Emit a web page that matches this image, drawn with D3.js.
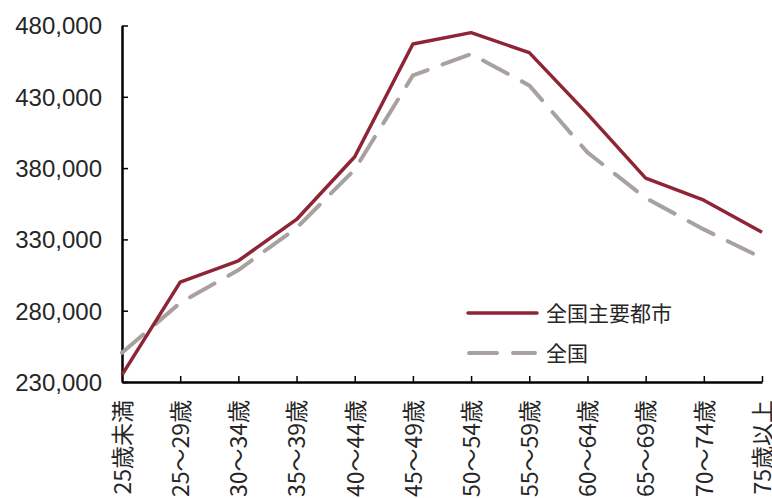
<!DOCTYPE html>
<html>
<head>
<meta charset="utf-8">
<script src="https://cdn.jsdelivr.net/npm/d3@7"></script>
<style>
  html, body { margin: 0; padding: 0; background: #fff; }
  svg { display: block; }
</style>
</head>
<body>
<svg id="chart" width="772" height="498"></svg>
<script>
// Age brackets (x axis)
const ageGroups = ["25歳未満", "25～29歳", "30～34歳", "35～39歳", "40～44歳", "45～49歳",
                   "50～54歳", "55～59歳", "60～64歳", "65～69歳", "70～74歳", "75歳以上"];

// Series values
const majorCities = [235000, 300000, 315000, 344000, 388000, 467000, 475000, 461000, 418000, 373000, 357500, 335000];
const nationwide  = [250500, 285500, 308500, 338000, 379000, 445000, 460000, 438000, 391000, 359000, 337000, 317000];

// Y axis ticks
const yTicks = [230000, 280000, 330000, 380000, 430000, 480000];

const seriesNames = ["全国主要都市", "全国"];

const svg = d3.select("#chart");
const plotLeft = 122, plotRight = 762, plotTop = 25.5, plotBottom = 382;

const x = d3.scalePoint().domain(ageGroups).range([plotLeft, plotRight]).padding(0);
const y = d3.scaleLinear().domain([230000, 480000]).range([plotBottom, plotTop]);

const fontLatin = "'Liberation Sans', Arial, 'Noto Sans CJK JP', sans-serif";
const fontCJK = "'Noto Sans CJK JP', 'Liberation Sans', sans-serif";
const textColor = "#262626";

// Y axis
const yAxis = svg.append("g")
  .attr("transform", `translate(${plotLeft},0)`)
  .call(d3.axisLeft(y).tickValues(yTicks).tickSizeInner(-6).tickSizeOuter(0).tickPadding(20)
        .tickFormat(d3.format(",")));
yAxis.select(".domain").attr("stroke", "#000").attr("stroke-width", 2.5);
yAxis.selectAll(".tick line").attr("stroke", "#000").attr("stroke-width", 1.5);
yAxis.selectAll(".tick text")
  .attr("font-family", fontLatin).attr("font-size", 24).attr("fill", textColor)
  .attr("dy", "0.35em");

// X axis with rotated age-bracket labels
const xAxis = svg.append("g")
  .attr("transform", `translate(0,${plotBottom})`)
  .call(d3.axisBottom(x).tickSizeInner(-6).tickSizeOuter(0).tickPadding(0));
xAxis.select(".domain").attr("stroke", "#000").attr("stroke-width", 2.5);
xAxis.selectAll(".tick line").attr("stroke", "#000").attr("stroke-width", 1.5);
xAxis.selectAll(".tick").filter(d => d === ageGroups[0]).select("line").remove();
xAxis.selectAll(".tick text")
  .attr("font-family", fontCJK).attr("font-size", 23).attr("fill", textColor)
  .attr("text-anchor", "end")
  .attr("transform", "rotate(-90)")
  .attr("x", -18).attr("y", 0).attr("dy", "0.36em");

// Lines
const line = d3.line().x((d, i) => x(ageGroups[i])).y(d => y(d));

svg.append("path").datum(nationwide)
  .attr("d", line).attr("fill", "none")
  .attr("stroke", "#A8A1A0").attr("stroke-width", 4)
  .attr("stroke-dasharray", "28,16").attr("stroke-linecap", "round")
  .attr("stroke-linejoin", "round");

svg.append("path").datum(majorCities)
  .attr("d", line).attr("fill", "none")
  .attr("stroke", "#8E2435").attr("stroke-width", 3.5)
  .attr("stroke-linejoin", "round");

// Legend
const legend = svg.append("g");
const legendItems = [
  { name: seriesNames[0], color: "#8E2435", dash: null, width: 3.5, y: 313 },
  { name: seriesNames[1], color: "#A8A1A0", dash: "28,16", width: 4, y: 353 }
];
legendItems.forEach(it => {
  legend.append("line")
    .attr("x1", it.dash ? 469 : 468).attr("x2", it.dash ? 535 : 537)
    .attr("y1", it.y).attr("y2", it.y)
    .attr("stroke", it.color).attr("stroke-width", it.width)
    .attr("stroke-dasharray", it.dash)
    .attr("stroke-linecap", "round");
  legend.append("text")
    .attr("x", 546).attr("y", it.y).attr("dy", "0.36em")
    .attr("font-family", fontCJK).attr("font-size", 21)
    .attr("fill", textColor)
    .text(it.name);
});
</script>
</body>
</html>
